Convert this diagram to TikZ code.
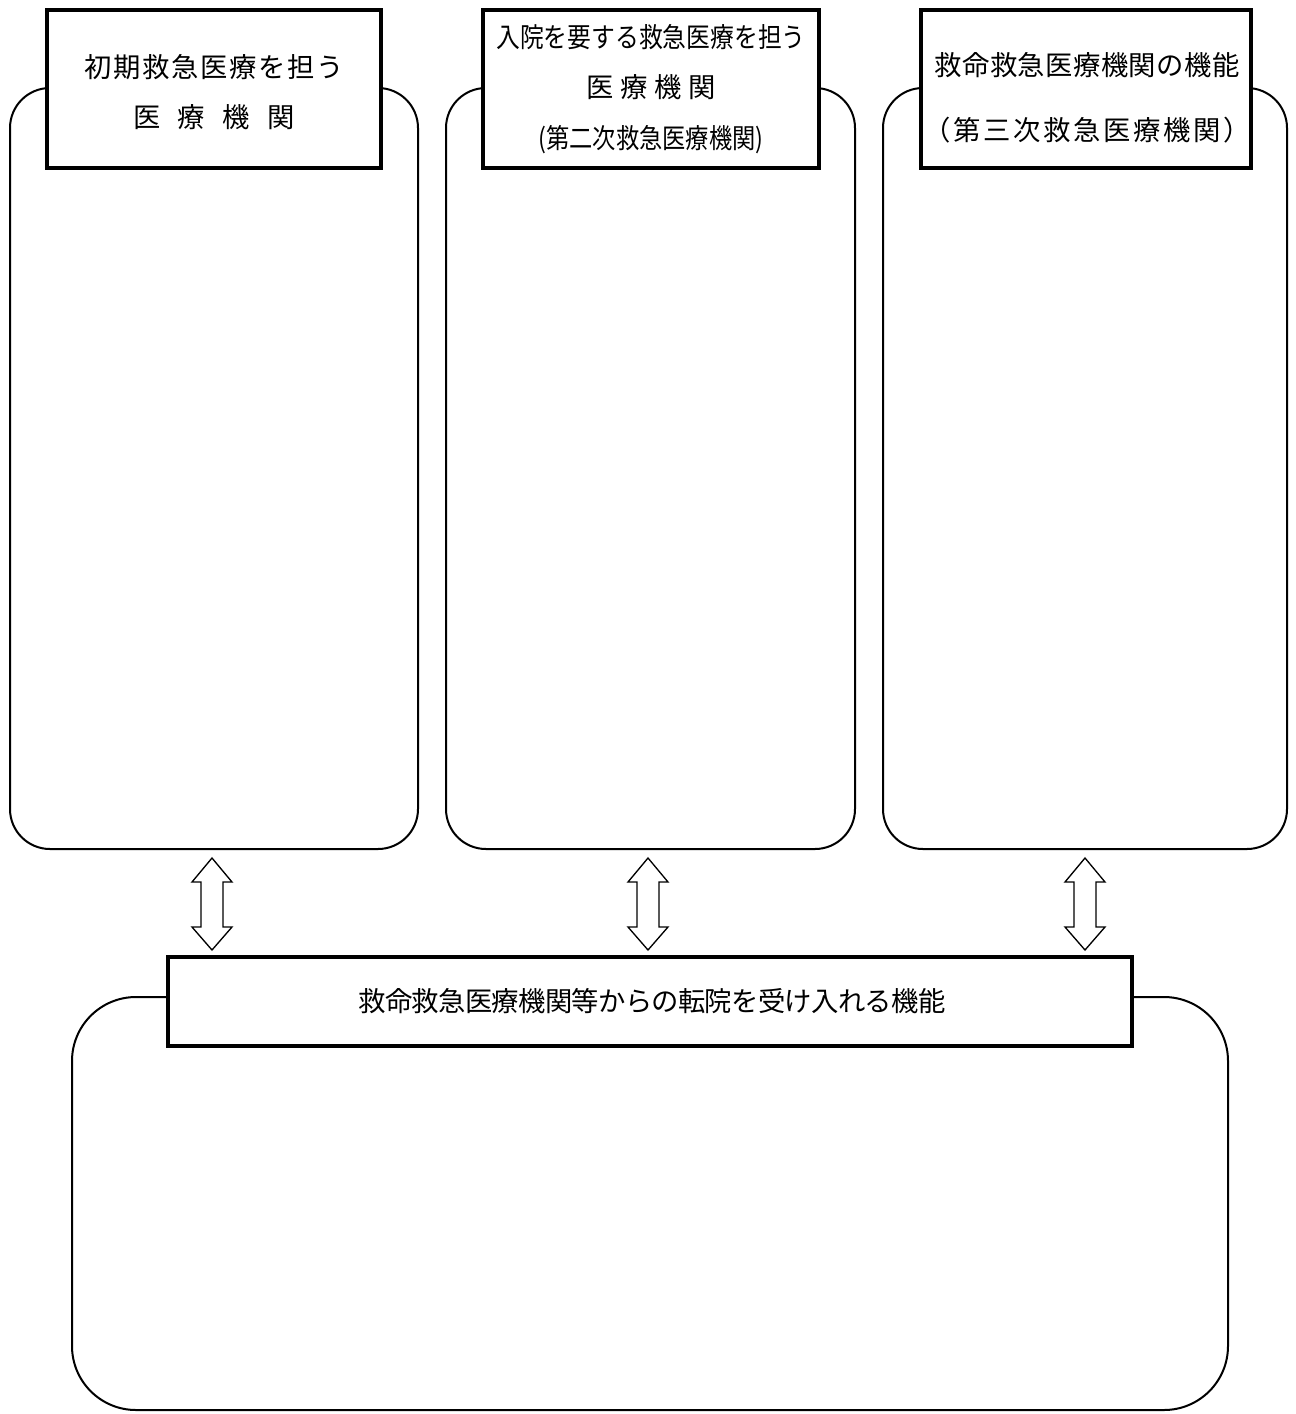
\documentclass[tikz,border=0pt]{standalone}
\usepackage{fontspec}
\usepackage{graphicx}
\usepackage{tikz}
\usetikzlibrary{fit}
\newfontfamily\jp{Noto Sans CJK JP}

\tikzset{
    panel/.style={draw, line width=1.5pt, rounded corners=30pt, inner sep=0pt},
    hbox/.style={draw, fill=white, line width=2.6pt, inner sep=0pt},
    htext/.style={inner sep=0pt, align=center},
    dblarrow/.style={draw, fill=white, line width=1pt, line join=miter},
}

\begin{document}
\begin{tikzpicture}[x=0.75pt, y=-0.75pt]
    \useasboundingbox (0,0) rectangle (1296,1414);

    % three upper panels
    \node [panel, fit={(10,88) (418,849)}] (P1) {};
    \node [panel, fit={(446,88) (855,849)}] (P2) {};
    \node [panel, fit={(883,88) (1287,849)}] (P3) {};
    % lower panel
    \node [panel, rounded corners=48pt, fit={(72,997) (1228,1410)}] (P4) {};

    % header boxes
    \node [hbox, fit={(47,10) (381,168)}] (H1) {};
    \node [hbox, fit={(483,10) (819,168)}] (H2) {};
    \node [hbox, fit={(921,10) (1251,168)}] (H3) {};
    \node [hbox, fit={(168,957) (1132,1046)}] (H4) {};

    % header texts
    \node [htext, font=\jp\fontsize{20.5}{37.5}\selectfont] (T1) at (214,92)
        {{\addfontfeature{LetterSpace=6}初期救急医療を担う}\\
         医\hspace{13pt}療\hspace{13pt}機\hspace{13pt}関};
    \node [htext, font=\jp\fontsize{20.5}{38}\selectfont] (T2) at (651,89)
        {\scalebox{0.87}[1]{入院を要する救急医療を担う}\\
         医\hspace{5pt}療\hspace{5pt}機\hspace{5pt}関\\
         \scalebox{0.85}[1]{(第二次救急医療機関)}};
    \node [htext, font=\jp\fontsize{20.5}{48.75}\selectfont] (T3) at (1087,98)
        {{\addfontfeature{LetterSpace=1.5}救命救急医療機関の機能}\\
         {\addfontfeature{LetterSpace=10}（第三次救急医療機関）}};
    \node [htext, font=\jp\fontsize{20.5}{24}\selectfont] (T4) at (652,1001)
        {{\addfontfeature{LetterSpace=-2.5}救命救急医療機関等からの転院を受け入れる機能}};

    % up-down arrows
    \foreach \cx in {212, 648, 1085} {
        \draw [dblarrow] (\cx,858) -- (\cx+20,882) -- (\cx+11,882) -- (\cx+11,927)
            -- (\cx+20,927) -- (\cx,950) -- (\cx-20,927) -- (\cx-11,927)
            -- (\cx-11,882) -- (\cx-20,882) -- cycle;
    }
\end{tikzpicture}
\end{document}
